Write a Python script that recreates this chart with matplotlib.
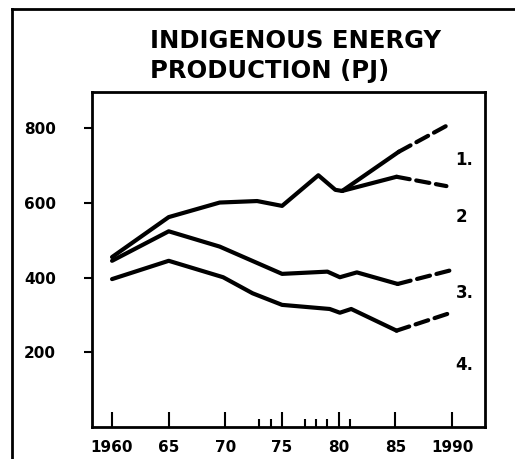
#!/usr/bin/env python3
"""
Indigenous energy production (PJ) - recreation of a hand-drawn chart.
"""
import matplotlib
matplotlib.use('Agg')
import matplotlib.pyplot as plt
from matplotlib.lines import Line2D

# Shared history (lines 1 and 2 coincide until 1980)
top_years = [1960, 1965, 1969.5, 1972.8, 1975, 1978.2, 1979.7, 1980.3]
top_vals = [455, 562, 601, 605, 592, 674, 635, 632]

# Line 1 / line 2 split after 1980
l1_years = [1980.3, 1985.3]
l1_vals = [632, 737]
l1_proj_years = [1985.3, 1989.6]
l1_proj_vals = [737, 808]

l2_years = [1980.3, 1985.1]
l2_vals = [632, 670]
l2_proj_years = [1985.1, 1989.5]
l2_proj_vals = [670, 645]

# Line 3
l3_years = [1960, 1965, 1969.5, 1975, 1979, 1980.1, 1981.6, 1985.2]
l3_vals = [445, 524, 483, 410, 416, 401, 414, 383]
l3_proj_years = [1985.2, 1989.8]
l3_proj_vals = [383, 419]

# Line 4
l4_years = [1960, 1965, 1969.8, 1972.4, 1975, 1979.2, 1980.1, 1981.1, 1985.1]
l4_vals = [396, 445, 401, 358, 327, 316, 306, 316, 258]
l4_proj_years = [1985.1, 1990]
l4_proj_vals = [258, 307]

major_ticks = [1960, 1965, 1970, 1975, 1980, 1985, 1990]
major_labels = ['1960', '65', '70', '75', '80', '85', '1990']
minor_ticks = [1973, 1974, 1977, 1978, 1979, 1981]
y_ticks = [200, 400, 600, 800]

curve_labels = ['1.', '2', '3.', '4.']
curve_label_y = [716, 561, 360, 165]

fig = plt.figure(figsize=(5.15, 4.59), dpi=100)
ax = fig.add_axes([0.1786, 0.0697, 0.7631, 0.7299])

lw = 3.0
solid = dict(color='black', lw=lw, solid_capstyle='round', solid_joinstyle='round')
dashed = dict(color='black', lw=lw, linestyle=(0, (3.2, 1.6)), dash_capstyle='round')

ax.plot(top_years, top_vals, **solid)
ax.plot(l1_years, l1_vals, **solid)
ax.plot(l1_proj_years, l1_proj_vals, **dashed)
ax.plot(l2_years, l2_vals, **solid)
ax.plot(l2_proj_years, l2_proj_vals, **dashed)
ax.plot(l3_years, l3_vals, **solid)
ax.plot(l3_proj_years, l3_proj_vals, **dashed)
ax.plot(l4_years, l4_vals, **solid)
ax.plot(l4_proj_years, l4_proj_vals, **dashed)

for lab, yv in zip(curve_labels, curve_label_y):
    ax.text(1990.3, yv, lab, fontsize=12, fontweight='bold', va='center', ha='left')

ax.set_xlim(1958.23, 1992.9)
ax.set_ylim(0, 897)

for side in ax.spines.values():
    side.set_linewidth(2.0)

ax.set_xticks(major_ticks)
ax.set_xticklabels(major_labels, fontsize=11, fontweight='bold')
ax.set_xticks(minor_ticks, minor=True)
ax.tick_params(axis='x', which='major', direction='in', length=11, width=1.5, pad=9)
ax.tick_params(axis='x', which='minor', direction='in', length=6, width=1.5)

ax.set_yticks(y_ticks)
ax.set_yticklabels([str(v) for v in y_ticks], fontsize=11, fontweight='bold')
ax.tick_params(axis='y', which='major', direction='out', length=6, width=1.5, pad=20)

# Title
fig.text(150 / 515, 1 - 41 / 459, 'INDIGENOUS ENERGY', fontsize=17.5, fontweight='bold',
         ha='left', va='center')
fig.text(150 / 515, 1 - 71 / 459, 'PRODUCTION (PJ)', fontsize=17.5, fontweight='bold',
         ha='left', va='center')

# Outer frame (cut off at right and bottom)
fig.add_artist(Line2D([12 / 515, 1.0], [1 - 9 / 459, 1 - 9 / 459], color='black', lw=2.0))
fig.add_artist(Line2D([12 / 515, 12 / 515], [1 - 9 / 459, 0.0], color='black', lw=2.0))

plt.savefig('out.png', dpi=100)
plt.close()
